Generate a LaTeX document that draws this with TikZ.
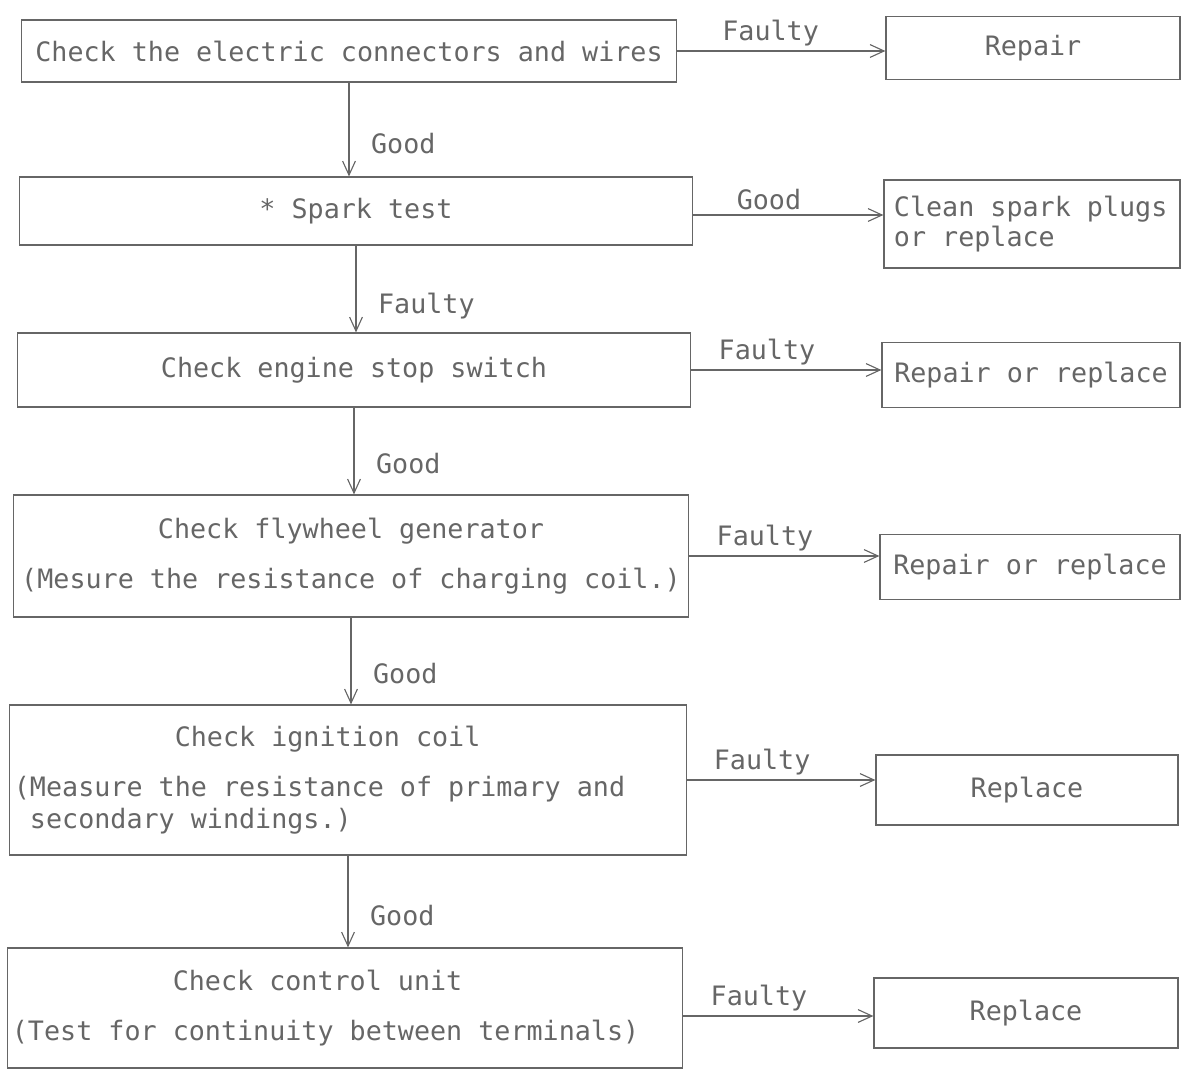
\documentclass[tikz,border=0pt]{standalone}
\usepackage{fontspec}
\usepackage{tikz}
\usetikzlibrary{arrows.meta, positioning, calc}
\newfontfamily\scanfont{DejaVu Sans Mono}

\tikzset{
  check/.style={draw=black!60, line width=0.8pt, inner xsep=0.1cm, align=center,
    font=\scanfont\fontsize{19pt}{23pt}\selectfont, text=black!60},
  remedy/.style={check},
  flow/.style={->, draw=black!60, line width=0.8pt},
  verdict/.style={font=\scanfont\fontsize{19pt}{23pt}\selectfont, text=black!60},
  >={Straight Barb[length=0.35cm,width=0.32cm]}
}

\begin{document}
\begin{tikzpicture}[x=0.025cm, y=-0.025cm]
\useasboundingbox (0,0) rectangle (1182,1069);

% Checks, top to bottom
\node[check, minimum width=16.35cm, minimum height=1.55cm] (L1) at (349,51)
  {Check the electric connectors and wires};
\node[check, minimum width=16.8cm, minimum height=1.7cm] (L2) at (356,211)
  {* Spark test};
\node[check, minimum width=16.8cm, minimum height=1.85cm] (L3) at (354,370)
  {Check engine stop switch};
\node[check, minimum width=16.85cm, minimum height=3.05cm] (L4) at (351,556)
  {Check flywheel generator\\[0.45cm](Mesure the resistance of charging coil.)};
\node[check, align=flush left, text width=16.7cm, minimum height=3.75cm] (L5) at (348,780)
  {\phantom{xxxxxxxxxx}Check ignition coil\\[0.45cm](Measure the resistance of primary and\\\phantom{x}secondary windings.)};
\node[check, align=flush left, text width=16.65cm, minimum height=3.0cm] (L6) at (345,1008)
  {\phantom{xxxxxxxxxx}Check control unit\\[0.45cm](Test for continuity between terminals)};

% Remedies
\node[remedy, minimum width=7.35cm, minimum height=1.575cm] (R1) at (1033,48) {Repair};
\node[remedy, align=flush left, text width=6.9cm, inner xsep=0.25cm, minimum height=2.2cm] (R2) at (1032,224)
  {Clean spark plugs\\[-0.08cm]or replace};
\node[remedy, minimum width=7.45cm, minimum height=1.625cm] (R3) at (1031,375) {Repair or replace};
\node[remedy, minimum width=7.5cm, minimum height=1.625cm] (R4) at (1030,567) {Repair or replace};
\node[remedy, minimum width=7.55cm, minimum height=1.75cm] (R5) at (1027,790) {Replace};
\node[remedy, minimum width=7.6cm, minimum height=1.75cm] (R6) at (1026,1013) {Replace};

% Downward path
\draw[flow] (L1.south) -- (L1.south |- L2.north) node[verdict, pos=0.65, right=12pt] {Good};
\draw[flow] (L2.south) -- (L2.south |- L3.north) node[verdict, pos=0.7, right=12pt] {Faulty};
\draw[flow] (L3.south) -- (L3.south |- L4.north) node[verdict, pos=0.65, right=12pt] {Good};
\draw[flow] (L4.south) -- (L4.south |- L5.north) node[verdict, pos=0.65, right=12pt] {Good};
\draw[flow] (L5.south) -- (L5.south |- L6.north) node[verdict, pos=0.65, right=12pt] {Good};

% Side exits
\draw[flow] (L1.east) -- (L1.east -| R1.west) node[verdict, pos=0.45, above] {Faulty};
\draw[flow] ($(L2.east)+(0,4)$) -- ($(L2.east -| R2.west)+(0,4)$) node[verdict, pos=0.4, above] {Good};
\draw[flow] (L3.east) -- (L3.east -| R3.west) node[verdict, pos=0.4, above] {Faulty};
\draw[flow] (L4.east) -- (L4.east -| R4.west) node[verdict, pos=0.4, above] {Faulty};
\draw[flow] (L5.east) -- (L5.east -| R5.west) node[verdict, pos=0.4, above] {Faulty};
\draw[flow] ($(L6.east)+(0,8)$) -- ($(L6.east -| R6.west)+(0,8)$) node[verdict, pos=0.4, above] {Faulty};
\end{tikzpicture}
\end{document}
